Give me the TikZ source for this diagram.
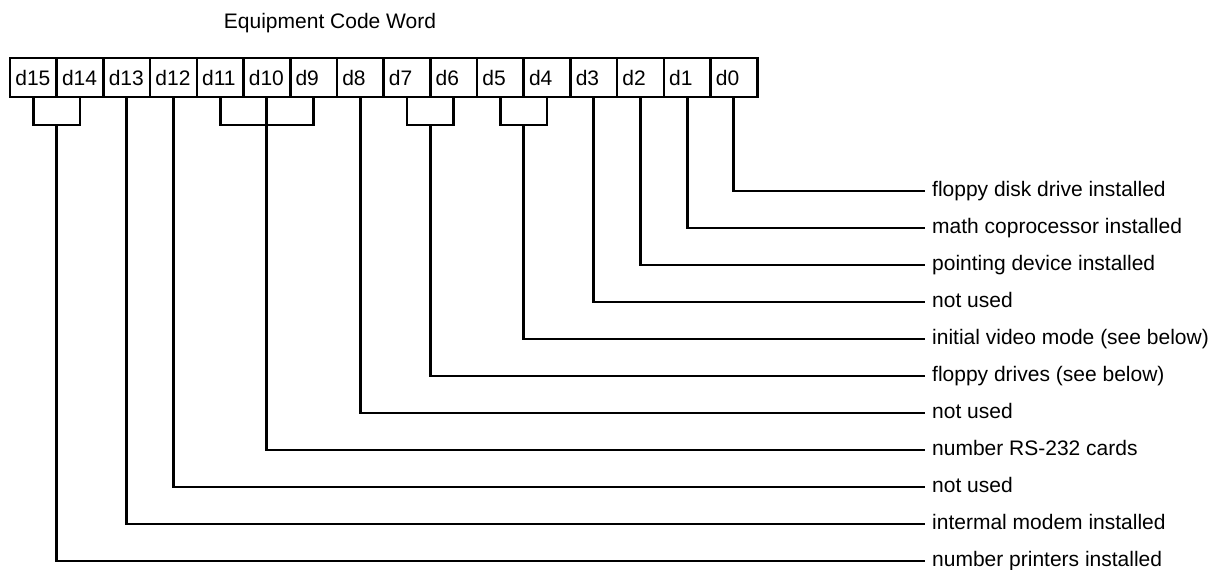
\documentclass[tikz,border=0pt]{standalone}
\usepackage{fontspec}
\setmainfont{Liberation Sans}
\usetikzlibrary{positioning,calc}
\tikzset{
    every picture/.style={line join=miter},
    bitcell/.style={draw=black,line width=2.6pt,
      minimum width=46.7pt,minimum height=39pt,text width=36pt,
      inner xsep=5pt,inner ysep=0pt,outer sep=0pt,align=left,
      font=\fontsize{21}{25}\selectfont},
    bitlabel/.style={anchor=west,inner xsep=7pt,inner ysep=0pt,
      text height=14pt,text depth=4pt,font=\fontsize{21}{25}\selectfont},
    bitline/.style={draw=black,line width=2.8pt},
    bracket/.style={bitline}
}
\begin{document}
\begin{tikzpicture}[x=1pt,y=-1pt]
    \useasboundingbox (0,0) rectangle (1216,570);
    \node[font=\fontsize{21}{25}\selectfont] (title) at (330,23) {Equipment Code Word};

    % the sixteen bits of the word
    \node[bitcell,anchor=west] (d15) at (10,77.5) {d15};
    \node[bitcell,right=0pt of d15] (d14) {d14};
    \node[bitcell,right=0pt of d14] (d13) {d13};
    \node[bitcell,right=0pt of d13] (d12) {d12};
    \node[bitcell,right=0pt of d12] (d11) {d11};
    \node[bitcell,right=0pt of d11] (d10) {d10};
    \node[bitcell,right=0pt of d10] (d9) {d9};
    \node[bitcell,right=0pt of d9] (d8) {d8};
    \node[bitcell,right=0pt of d8] (d7) {d7};
    \node[bitcell,right=0pt of d7] (d6) {d6};
    \node[bitcell,right=0pt of d6] (d5) {d5};
    \node[bitcell,right=0pt of d5] (d4) {d4};
    \node[bitcell,right=0pt of d4] (d3) {d3};
    \node[bitcell,right=0pt of d3] (d2) {d2};
    \node[bitcell,right=0pt of d2] (d1) {d1};
    \node[bitcell,right=0pt of d1] (d0) {d0};

    % meanings
    \node[bitlabel] (l0) at (925,191) {floppy disk drive installed};
    \node[bitlabel] (l1) at (925,228) {math coprocessor installed};
    \node[bitlabel] (l2) at (925,265) {pointing device installed};
    \node[bitlabel] (l3) at (925,302) {not used};
    \node[bitlabel] (l4) at (925,339) {initial video mode (see below)};
    \node[bitlabel] (l6) at (925,376) {floppy drives (see below)};
    \node[bitlabel] (l8) at (925,413) {not used};
    \node[bitlabel] (l9) at (925,450) {number RS-232 cards};
    \node[bitlabel] (l12) at (925,487) {not used};
    \node[bitlabel] (l13) at (925,524) {intermal modem installed};
    \node[bitlabel] (l14) at (925,561) {number printers installed};

    % brackets joining grouped bits
    \draw[bracket] (d15.south) -- ++(0,28) -| (d14.south);
    \draw[bracket] (d11.south) -- ++(0,28) -| (d9.south);
    \draw[bracket] (d7.south) -- ++(0,28) -| (d6.south);
    \draw[bracket] (d5.south) -- ++(0,28) -| (d4.south);
    \coordinate (g15) at ($(d15.south)!0.5!(d14.south)+(0,28)$);
    \coordinate (g7) at ($(d7.south)!0.5!(d6.south)+(0,28)$);
    \coordinate (g5) at ($(d5.south)!0.5!(d4.south)+(0,28)$);

    \draw[bitline] (d0.south) |- (l0.west);
    \draw[bitline] (d1.south) |- (l1.west);
    \draw[bitline] (d2.south) |- (l2.west);
    \draw[bitline] (d3.south) |- (l3.west);
    \draw[bitline] (g5) |- (l4.west);
    \draw[bitline] (g7) |- (l6.west);
    \draw[bitline] (d8.south) |- (l8.west);
    \draw[bitline] (d10.south) |- (l9.west);
    \draw[bitline] (d12.south) |- (l12.west);
    \draw[bitline] (d13.south) |- (l13.west);
    \draw[bitline] (g15) |- (l14.west);
\end{tikzpicture}
\end{document}
